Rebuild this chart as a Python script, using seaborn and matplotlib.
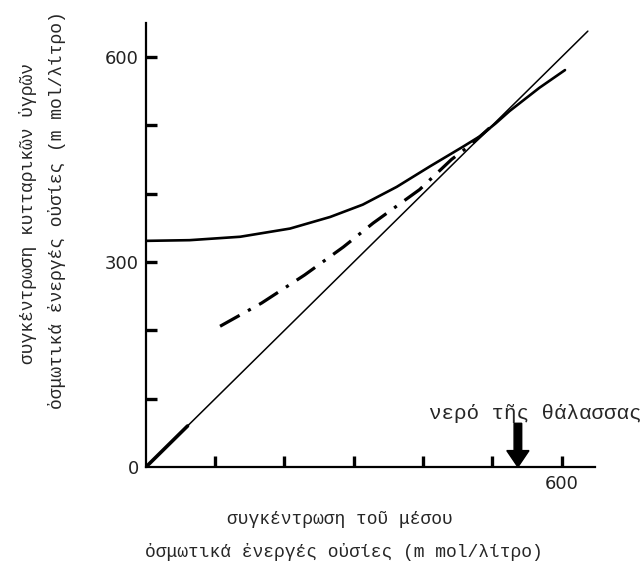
import pandas as pd
import seaborn as sns
import matplotlib
matplotlib.use("Agg")
import matplotlib.pyplot as plt

# (m mol / litre)
identity_x = [0, 638]
identity_y = [0, 638]

cell_x = [0, 63, 136, 208, 266, 313, 362, 410, 458, 482, 505, 525, 568, 605]
cell_y = [331, 332, 337, 349, 366, 384, 410, 440, 469, 484, 503, 521, 555, 581]

mid_x = [107, 167, 229, 285, 328, 354, 395, 441, 472, 500]
mid_y = [206, 240, 281, 322, 357, 376, 406, 450, 474, 500]

x_ticks = [100, 200, 300, 400, 500, 600]
x_labels = ["", "", "", "", "", "600"]
y_ticks = [0, 100, 200, 300, 400, 500, 600]
y_labels = ["0", "", "", "300", "", "", "600"]

sea_water_x = 537

greek = ["Liberation Mono", "DejaVu Sans Mono"]

sns.set_style("ticks")
plt.rcParams["font.family"] = ["DejaVu Sans"]

fig = plt.figure(figsize=(6.43, 5.73), dpi=100)
ax = fig.add_axes([0.227, 0.185, 0.698, 0.775])

df_id = pd.DataFrame({"x": identity_x, "y": identity_y})
df_cell = pd.DataFrame({"x": cell_x, "y": cell_y})
df_mid = pd.DataFrame({"x": mid_x, "y": mid_y})

sns.lineplot(data=df_id, x="x", y="y", ax=ax, color="black", linewidth=1.1)
# the scan has a heavier stroke right at the origin
sns.lineplot(x=[0, 60], y=[0, 60], ax=ax, color="black", linewidth=2.6)
sns.lineplot(data=df_cell, x="x", y="y", ax=ax, color="black", linewidth=1.9)
sns.lineplot(data=df_mid, x="x", y="y", ax=ax, color="black", linewidth=2.3,
             linestyle=(0, (7, 3, 1, 3)))

ax.set_xlim(0, 648)
ax.set_ylim(0, 650)
sns.despine(ax=ax)
for side in ["left", "bottom"]:
    ax.spines[side].set_linewidth(1.6)
    ax.spines[side].set_color("black")

ax.set_xticks(x_ticks)
ax.set_xticklabels(x_labels)
ax.set_yticks(y_ticks)
ax.set_yticklabels(y_labels)
ax.tick_params(direction="in", length=8, width=2.4, color="black",
               labelsize=13, labelcolor="#222222")
ax.tick_params(axis="y", pad=5)
ax.tick_params(axis="x", pad=6)
ax.yaxis.get_major_ticks()[0].tick1line.set_visible(False)
ax.set_xlabel("")
ax.set_ylabel("")

# sea water marker
ax.arrow(sea_water_x, 64, 0, -64, width=11, head_width=32, head_length=24,
         length_includes_head=True, color="black", clip_on=False)
ax.text(562, 79, "νερό τῆς θάλασσας", family=greek, fontsize=15,
        ha="center", va="center")

fig.text(0.0435, 0.628, "συγκέντρωση κυτταρικῶν ὑγρῶν", family=greek,
         fontsize=13, rotation=90, ha="center", va="center")
fig.text(0.0886, 0.634, "ὀσμωτικά ἐνεργές οὐσίες (m mol/λίτρο)", family=greek,
         fontsize=13, rotation=90, ha="center", va="center")
fig.text(0.529, 0.0925, "συγκέντρωση τοῦ μέσου", family=greek,
         fontsize=13, ha="center", va="center")
fig.text(0.535, 0.0366, "ὀσμωτικά ἐνεργές οὐσίες (m mol/λίτρο)", family=greek,
         fontsize=13, ha="center", va="center")

fig.savefig("out.png", dpi=100)
